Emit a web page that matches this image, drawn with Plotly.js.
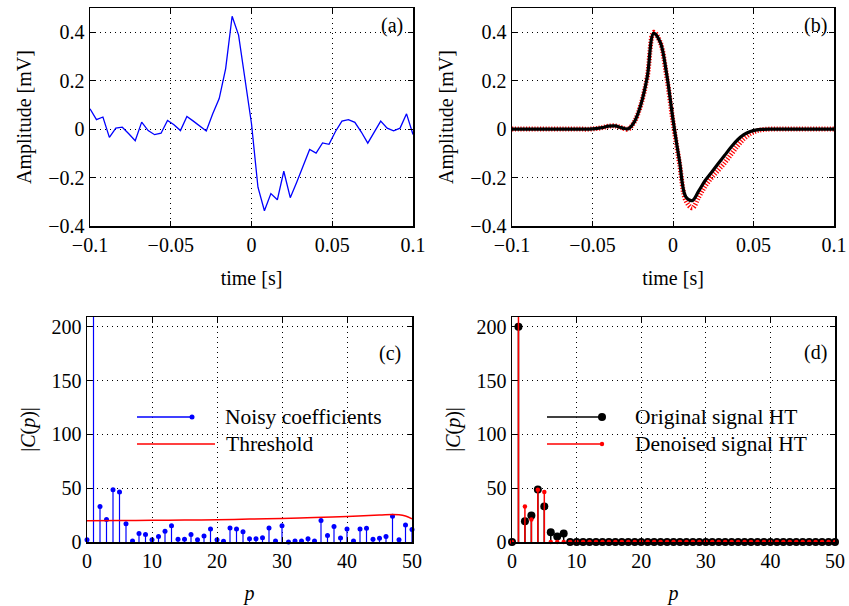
<!DOCTYPE html>
<html><head><meta charset="utf-8">
<script src="https://cdn.plot.ly/plotly-3.0.1.min.js"></script>
<style>html,body{margin:0;padding:0;background:#fff}</style>
</head><body><div id="chart" style="width:849px;height:606px"></div>
<script>
// ---------- data ----------
const time = [-0.1,-0.096,-0.092,-0.088,-0.084,-0.08,-0.076,-0.072,-0.068,-0.064,-0.06,-0.056,-0.052,-0.048,-0.044,-0.04,-0.036,-0.032,-0.028,-0.024,-0.02,-0.016,-0.012,-0.008,-0.004,0,0.004,0.008,0.012,0.016,0.02,0.024,0.028,0.032,0.036,0.04,0.044,0.048,0.052,0.056,0.06,0.064,0.068,0.072,0.076,0.08,0.084,0.088,0.092,0.096,0.1];
const noisySignal = [0.084,0.039,0.05,-0.034,0.004,0.008,-0.019,-0.048,0.029,-0.006,-0.023,-0.017,0.036,0.018,-0.006,0.052,0.033,0.011,-0.008,0.063,0.126,0.25,0.466,0.388,0.215,0.022,-0.24,-0.337,-0.266,-0.292,-0.174,-0.283,-0.219,-0.15,-0.084,-0.099,-0.057,-0.063,-0.01,0.033,0.039,0.028,-0.012,-0.058,-0.012,0.033,0.004,-0.007,0.004,0.063,-0.022];
const cleanSignal = [0,0,0,0,0,0,0,0,0,0,0,0,0,0.002,0.006,0.012,0.013,0.006,0.001,0.03,0.10,0.215,0.395,0.36,0.23,0.04,-0.13,-0.28,-0.295,-0.255,-0.212,-0.178,-0.143,-0.109,-0.075,-0.045,-0.023,-0.01,-0.003,-0.001,0,0,0,0,0,0,0,0,0,0,0];
const denoisedSignal = [0,0,0,0,0,0,0,0,0,0,0,0,0,0.002,0.006,0.012,0.013,0.006,0.0,0.03,0.10,0.215,0.40,0.36,0.22,0.03,-0.14,-0.295,-0.325,-0.28,-0.235,-0.20,-0.17,-0.14,-0.105,-0.07,-0.04,-0.019,-0.007,-0.002,0,0,0,0,0,0,0,0,0,0,0];

const pIndex = [0,1,2,3,4,5,6,7,8,9,10,11,12,13,14,15,16,17,18,19,20,21,22,23,24,25,26,27,28,29,30,31,32,33,34,35,36,37,38,39,40,41,42,43,44,45,46,47,48,49,50];
const noisyCoef = [2,215,33,21,48.5,46.5,17,1,8,7,2,5,10,15,2.5,2.5,7,2,5.5,12,2,0.6,13,12,9.5,3,3,4,13,1,15,0,1,1,3,1,20,6,14.5,3.7,12,1,12,12.7,2.5,3.4,5,24,2,15.7,11.7];
const thresholdP = [0,5,10,15,20,25,30,35,40,45,47,48,49,50];
const thresholdVal = [19.75,19.9,20.1,20.4,20.7,21.3,21.9,22.8,23.8,25.0,25.6,25.3,24.1,21.6];
const originalCoef = [0,200,19.3,24.7,48.7,33,9,5,8,0,0,0,0,0,0,0,0,0,0,0,0,0,0,0,0,0,0,0,0,0,0,0,0,0,0,0,0,0,0,0,0,0,0,0,0,0,0,0,0,0,0];
const denoisedCoef = [0,215,33,21,48.5,46.5,0,0,0,0,0,0,0,0,0,0,0,0,0,0,0,0,0,0,0,0,0,0,0,0,0,0,0,0,0,0,0,0,0,0,0,0,0,0,0,0,0,0,0,0,0];

const xTickSignal = [-0.1,-0.05,0,0.05,0.1];
const yTickSignal = [-0.4,-0.2,0,0.2,0.4];
const xTickCoef = [0,10,20,30,40,50];
const yTickCoef = [0,50,100,150,200];

// ---------- helpers ----------
const FONT = 'Liberation Serif, Times New Roman, serif';
const W = 849, H = 606;
const px = x => x / W, py = y => 1 - y / H;
const YMAX_COEF = 209;

function stems(xs, ys) {
  const sx = [], sy = [];
  xs.forEach((x, i) => { sx.push(x, x, null); sy.push(0, ys[i], null); });
  return {x: sx, y: sy};
}
function visible(ys, max) { return ys.map(v => v <= max ? v : null); }

function axis(domain, range, tickvals, anchor, title, standoff) {
  return {
    domain, range, anchor, tickvals,
    showgrid: true, gridcolor: '#000', griddash: '1px,4px', gridwidth: 1,
    zeroline: false, showline: true, mirror: 'ticks', linecolor: '#000', linewidth: 1.5,
    ticks: 'inside', ticklen: 5, tickcolor: '#000', tickwidth: 1,
    tickfont: {family: FONT, size: 20, color: '#000'},
    title: {text: title, font: {family: FONT, size: 20, color: '#000'}, standoff},
    automargin: false
  };
}

const sC = stems(pIndex, noisyCoef);
const sDo = stems(pIndex, originalCoef);
const sDd = stems(pIndex, denoisedCoef);

const traces = [
  {x: time, y: noisySignal, xaxis: 'x', yaxis: 'y', mode: 'lines', line: {color: '#0000ff', width: 1.3}},
  {x: time, y: denoisedSignal, xaxis: 'x2', yaxis: 'y2', mode: 'lines', line: {color: '#ff0000', width: 5, dash: '1.2px,1.6px', shape: 'spline'}},
  {x: time, y: cleanSignal, xaxis: 'x2', yaxis: 'y2', mode: 'lines', line: {color: '#000', width: 3.2, shape: 'spline'}},
  {x: sC.x, y: sC.y, xaxis: 'x3', yaxis: 'y3', mode: 'lines', line: {color: '#0000ff', width: 1.2}},
  {x: pIndex, y: visible(noisyCoef, YMAX_COEF), xaxis: 'x3', yaxis: 'y3', mode: 'markers', cliponaxis: false, marker: {color: '#0000ff', size: 5}},
  {x: thresholdP, y: thresholdVal, xaxis: 'x3', yaxis: 'y3', mode: 'lines', line: {color: '#ff0000', width: 1.5, shape: 'spline'}},
  {x: sDo.x, y: sDo.y, xaxis: 'x4', yaxis: 'y4', mode: 'lines', line: {color: '#000', width: 1.5}},
  {x: pIndex, y: visible(originalCoef, YMAX_COEF), xaxis: 'x4', yaxis: 'y4', mode: 'markers', cliponaxis: false, marker: {color: '#000', size: 8}},
  {x: sDd.x, y: sDd.y, xaxis: 'x4', yaxis: 'y4', mode: 'lines', line: {color: '#ff0000', width: 1.5}},
  {x: pIndex, y: visible(denoisedCoef, YMAX_COEF), xaxis: 'x4', yaxis: 'y4', mode: 'markers', cliponaxis: false, marker: {color: '#ff0000', size: 4.5}}
];

const domA = [px(90), px(413)], domB = [px(512), px(834)];
const domC = [px(87), px(412)], domD = [px(512), px(835)];
const domTop = [py(226), py(8)], domBot = [py(542), py(317)];

const legendShapes = [
  {type: 'line', xref: 'paper', yref: 'paper', x0: px(137), x1: px(192), y0: py(417), y1: py(417), line: {color: '#0000ff', width: 1.5}},
  {type: 'circle', xref: 'paper', yref: 'paper', x0: px(189.5), x1: px(194.5), y0: py(414.5), y1: py(419.5), fillcolor: '#0000ff', line: {width: 0}},
  {type: 'line', xref: 'paper', yref: 'paper', x0: px(137), x1: px(215), y0: py(444), y1: py(444), line: {color: '#ff0000', width: 1.5}},
  {type: 'line', xref: 'paper', yref: 'paper', x0: px(547), x1: px(602), y0: py(417), y1: py(417), line: {color: '#000', width: 1.5}},
  {type: 'circle', xref: 'paper', yref: 'paper', x0: px(598), x1: px(606), y0: py(413), y1: py(421), fillcolor: '#000', line: {width: 0}},
  {type: 'line', xref: 'paper', yref: 'paper', x0: px(547), x1: px(602), y0: py(444), y1: py(444), line: {color: '#ff0000', width: 1.5}},
  {type: 'circle', xref: 'paper', yref: 'paper', x0: px(599.8), x1: px(604.2), y0: py(441.8), y1: py(446.2), fillcolor: '#ff0000', line: {width: 0}}
];

function label(text, x, y, size, anchor) {
  return {text, x: px(x), y: py(y), xref: 'paper', yref: 'paper', showarrow: false,
    xanchor: anchor || 'center', yanchor: 'middle', font: {family: FONT, size: size || 20, color: '#000'}};
}

const layout = {
  width: W, height: H, margin: {l: 0, r: 0, t: 0, b: 0},
  paper_bgcolor: '#fff', plot_bgcolor: '#fff', showlegend: false,
  xaxis: axis(domA, [-0.1, 0.1], xTickSignal, 'y', 'time [s]', 16),
  yaxis: axis(domTop, [-0.4, 0.5], yTickSignal, 'x', 'Amplitude [mV]', 11),
  xaxis2: axis(domB, [-0.1, 0.1], xTickSignal, 'y2', 'time [s]', 16),
  yaxis2: axis(domTop, [-0.4, 0.5], yTickSignal, 'x2', 'Amplitude [mV]', 11),
  xaxis3: axis(domC, [0, 50], xTickCoef, 'y3', '<i>p</i>', 15),
  yaxis3: axis(domBot, [0, 209], yTickCoef, 'x3', '|<i>C</i>(<i>p</i>)|', 10),
  xaxis4: axis(domD, [0, 50], xTickCoef, 'y4', '<i>p</i>', 15),
  yaxis4: axis(domBot, [0, 209], yTickCoef, 'x4', '|<i>C</i>(<i>p</i>)|', 10),
  shapes: legendShapes,
  annotations: [
    label('(a)', 392, 25), label('(b)', 815, 25), label('(c)', 390, 353), label('(d)', 815, 352),
    label('Noisy coefficients', 223, 417, 21.5, 'left'), label('Threshold', 224, 444, 21.5, 'left'),
    label('Original signal HT', 633, 417, 21.5, 'left'), label('Denoised signal HT', 633, 444, 21.5, 'left')
  ]
};

Plotly.newPlot('chart', traces, layout, {displayModeBar: false, staticPlot: true});
</script></body></html>
